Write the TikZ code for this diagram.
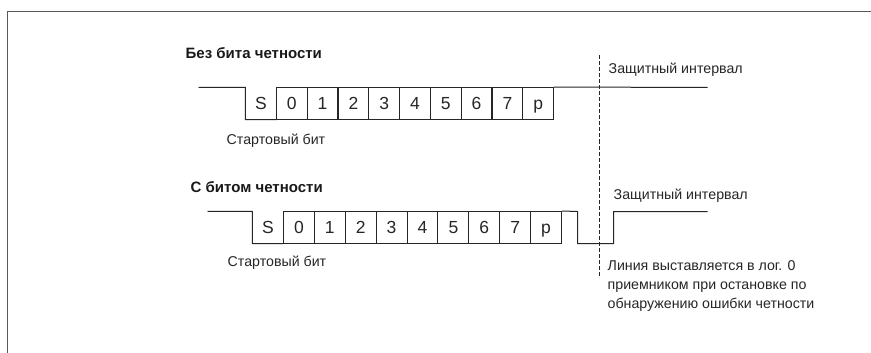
\documentclass[tikz,border=0pt]{standalone}
\usepackage{fontspec}
\setmainfont{Liberation Sans}
\begin{document}
\begin{tikzpicture}[x=1pt,y=-1pt,
  sig/.style={draw=black!85, line width=1pt},
  cellbase/.style={minimum width=30.9pt, minimum height=32pt, inner sep=0pt, text height=12.5pt, text depth=0pt, font=\fontsize{17.5}{17.5}\selectfont, text=black!85},
  cell/.style={cellbase, draw=black!85, line width=1pt},
  startcell/.style={cellbase},
  lbl/.style={anchor=west, inner sep=0pt, font=\fontsize{14.2}{16}\selectfont, text=black!85},
  ttl/.style={anchor=west, inner sep=0pt, font=\bfseries\fontsize{15}{16}\selectfont, text=black!90},
  frame/.style={draw=black!65, line width=1.8pt}]
\useasboundingbox (0,0) rectangle (871,353);
\fill[white] (0,0) rectangle (871,353);
\begin{scope}[shift={(0.5,0.5)}]
% frame
\draw[frame] (7,353) -- (7,11) -- (871,11);

% ---- top diagram ----
\node[ttl] (t1) at (185,53) {Без бита четности};
\node[startcell] (aS) at (260.5,103) {S};
\foreach \n [count=\i] in {0,1,2,3,4,5,6,7,p}{
  \node[cell] (a\i) at (260.5+\i*30.8,103) {\n};
}
\coordinate (a0) at (198,87);
\coordinate (aend) at (707,87);
\draw[sig] (a0) -- (aS.north west) -- (aS.south west) -- (aS.south east);
\draw[sig] (a9.north east) -- (aend);
\node[lbl] (sb1) at (226,140) {Стартовый бит};
\node[lbl] (g1) at (608,69) {Защитный интервал};

% ---- bottom diagram ----
\node[ttl] (t2) at (190,187) {С битом четности};
\node[startcell] (bS) at (267.5,227) {S};
\foreach \n [count=\i] in {0,1,2,3,4,5,6,7,p}{
  \node[cell] (b\i) at (267.5+\i*30.9,227) {\n};
}
\coordinate (b0) at (207,211);
\coordinate (bq) at (577,211);
\coordinate (br) at (613,243);
\coordinate (bend) at (707,211);
\draw[sig] (b0) -- (bS.north west) -- (bS.south west) -- (bS.south east);
\draw[sig] (b9.north east) -- (bq) -- (bq |- br) -- (br) -- (br |- bend) -- (bend);
\node[lbl] (sb2) at (227,262) {Стартовый бит};
\node[lbl] (g2) at (613,195) {Защитный интервал};
\node[lbl, align=left, anchor=north west, font=\fontsize{14.2}{19}\selectfont] (note) at (607,260) {Линия выставляется в лог. 0\\приемником при остановке по\\обнаружению ошибки четности};

% dashed marker
\coordinate (dtop) at (599,55);
\coordinate (dbot) at (599,277);
\draw[black!85, line width=1pt, dash pattern=on 4pt off 2pt] (dtop) -- (dbot);
\end{scope}
\end{tikzpicture}
\end{document}
